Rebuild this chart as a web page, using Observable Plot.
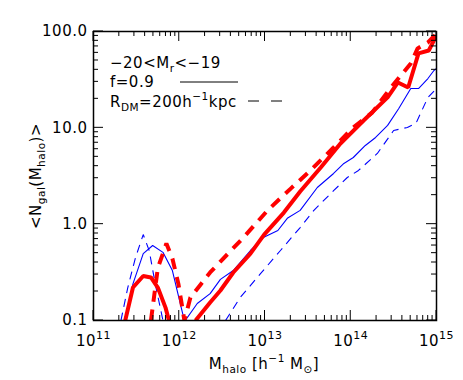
<!DOCTYPE html>
<html><head><meta charset="utf-8">
<script src="https://cdn.jsdelivr.net/npm/d3@7"></script>
<script src="https://cdn.jsdelivr.net/npm/@observablehq/plot@0.6"></script>
<style>body{margin:0;background:#fff}</style>
</head><body><div id="chart"></div>
<script>
// Data (log10 halo mass, mean galaxy count)
const redSolidLeftLogM = [11.37, 11.46, 11.58, 11.67, 11.75, 11.84, 11.88];
const redSolidLeftN = [0.1, 0.22, 0.29, 0.28, 0.22, 0.136, 0.1];
const redSolidRightLogM = [12.19, 12.36, 12.48, 12.63, 12.83, 12.99, 13.22, 13.41, 13.65, 13.88, 14.15, 14.43, 14.55, 14.67, 14.79, 14.91, 15.0];
const redSolidRightN = [0.1, 0.154, 0.205, 0.315, 0.495, 0.78, 1.32, 2.18, 3.87, 6.87, 11.9, 20.7, 29.6, 26.2, 59.2, 63.5, 90.8];

const redDashedLogM = [11.67, 11.75, 11.85, 11.92, 11.99, 12.06, 12.13, 12.25, 12.36, 12.48, 12.75, 13.03, 13.30, 13.53, 13.80, 14.03, 14.25, 14.46, 14.70, 14.78, 14.90, 15.0];
const redDashedN = [0.1, 0.35, 0.63, 0.44, 0.24, 0.1, 0.173, 0.237, 0.315, 0.409, 0.728, 1.39, 2.34, 3.61, 6.25, 10.1, 14.4, 25.6, 46.6, 66.7, 76.9, 95.3];

const blueSolidLogM = [11.37, 11.46, 11.58, 11.69, 11.81, 11.92, 12.04, 12.07, 12.21, 12.36, 12.48, 12.63, 12.83, 12.98, 13.15, 13.26, 13.41, 13.61, 13.80, 13.92, 14.03, 14.17, 14.29, 14.43, 14.56, 14.70, 14.79, 14.90, 14.97, 15.0];
const blueSolidN = [0.1, 0.24, 0.495, 0.6, 0.51, 0.33, 0.118, 0.1, 0.15, 0.19, 0.267, 0.33, 0.533, 0.726, 0.859, 1.15, 1.39, 2.40, 3.36, 4.27, 4.92, 6.56, 7.94, 10.6, 15.9, 25.6, 25.6, 32.5, 39.4, 41.3];

const blueDashedLeftLogM = [11.32, 11.40, 11.49, 11.58, 11.65, 11.72, 11.81];
const blueDashedLeftN = [0.1, 0.22, 0.45, 0.78, 0.53, 0.24, 0.1];
const blueDashedRightLogM = [12.54, 12.71, 12.95, 13.18, 13.41, 13.57, 13.80, 13.96, 14.09, 14.31, 14.50, 14.66, 14.76, 14.90, 15.0];
const blueDashedRightN = [0.1, 0.173, 0.308, 0.533, 0.923, 1.39, 2.23, 3.05, 3.61, 5.42, 9.38, 10.1, 11.1, 20.7, 25.6];

const xMajorTicks = [1e11, 1e12, 1e13, 1e14, 1e15];
const xTickExponents = ["11", "12", "13", "14", "15"];
const yMajorTicks = [0.1, 1, 10, 100];
const yTickLabels = ["0.1", "1.0", "10.0", "100.0"];

const rows = (lm, n) => lm.map((m, i) => ({m: 10 ** m, n: n[i]}));

const xMinorTicks = [];
for (let e = 11; e < 15; e++) for (let k = 2; k <= 9; k++) xMinorTicks.push(k * 10 ** e);
const yMinorTicks = [];
for (let e = -1; e < 2; e++) for (let k = 2; k <= 9; k++) yMinorTicks.push(+(k * 10 ** e).toPrecision(3));

const lineOpts = (color, w, dash) => ({x: "m", y: "n", stroke: color, strokeWidth: w, strokeDasharray: dash, strokeLinecap: "butt", strokeLinejoin: "miter", clip: true});

const svg = Plot.plot({
  width: 463, height: 380,
  marginLeft: 93, marginRight: 27, marginTop: 31, marginBottom: 60,
  style: {fontFamily: "DejaVu Sans", fontSize: "15px", background: "white", color: "black", letterSpacing: "0.5px"},
  x: {type: "log", domain: [1e11, 1e15]},
  y: {type: "log", domain: [0.1, 100]},
  marks: [
    Plot.axisX({anchor: "bottom", ticks: xMajorTicks, tickSize: 0, tickPadding: 15, tickFormat: d => "10^" + xTickExponents[xMajorTicks.indexOf(d)], label: null}),
    Plot.axisY({anchor: "left", ticks: yMajorTicks, tickSize: 0, tickPadding: 6, tickFormat: d => yTickLabels[yMajorTicks.indexOf(d)], label: null}),
    Plot.line(rows(blueSolidLogM, blueSolidN), lineOpts("#0000ff", 1.1)),
    Plot.line(rows(blueDashedLeftLogM, blueDashedLeftN), lineOpts("#0000ff", 1.1, "8,6")),
    Plot.line(rows(blueDashedRightLogM, blueDashedRightN), lineOpts("#0000ff", 1.1, "8,6")),
    Plot.line(rows(redSolidLeftLogM, redSolidLeftN), lineOpts("#ff0000", 4)),
    Plot.line(rows(redSolidRightLogM, redSolidRightN), lineOpts("#ff0000", 4)),
    Plot.line(rows(redDashedLogM, redDashedN), lineOpts("#ff0000", 4, "11,8")),
    Plot.frame({stroke: "black", strokeWidth: 1.5})
  ]
});

const root = d3.select(svg);
const sx = svg.scale("x"), sy = svg.scale("y");
const [X0, X1] = sx.range, [Y0, Y1] = sy.range; // Y0 bottom, Y1 top

// inward ticks on all four sides, positioned through the plot's scales
const tickG = root.append("g").attr("stroke", "black").attr("stroke-width", 1);
for (const [list, len] of [[xMinorTicks, 5], [xMajorTicks, 10]]) {
  for (const v of list) {
    const px = sx.apply(v);
    tickG.append("line").attr("x1", px).attr("x2", px).attr("y1", Y0).attr("y2", Y0 - len);
    tickG.append("line").attr("x1", px).attr("x2", px).attr("y1", Y1).attr("y2", Y1 + len);
  }
}
for (const [list, len] of [[yMinorTicks, 5], [yMajorTicks, 10]]) {
  for (const v of list) {
    const py = sy.apply(v);
    tickG.append("line").attr("y1", py).attr("y2", py).attr("x1", X0).attr("x2", X0 + len);
    tickG.append("line").attr("y1", py).attr("y2", py).attr("x1", X1).attr("x2", X1 - len);
  }
}

// superscripted x tick labels
svg.querySelectorAll("text").forEach(t => {
  const s = t.textContent;
  if (s.startsWith("10^")) {
    const exp = s.slice(3);
    const sel = d3.select(t);
    sel.text(null);
    sel.append("tspan").text("10");
    sel.append("tspan").attr("dy", -7).attr("font-size", 11).text(exp);
  }
});

function rich(parent, parts) {
  let shift = 0;
  for (const p of parts) {
    const target = p.s === "sub" ? 4 : p.s === "sup" ? -7 : 0;
    const ts = parent.append("tspan").attr("dy", target - shift).text(p.t);
    if (p.s) ts.attr("font-size", 10.5);
    shift = target;
  }
}

// y label
const yl = root.append("text").attr("transform", "translate(41,176) rotate(-90)").attr("text-anchor", "middle");
rich(yl, [{t: "<N"}, {t: "gal", s: "sub"}, {t: "(M"}, {t: "halo", s: "sub"}, {t: ")>"}]);

// x label
const xl = root.append("text").attr("x", 264).attr("y", 369).attr("text-anchor", "middle");
rich(xl, [{t: "M"}, {t: "halo", s: "sub"}, {t: " [h"}, {t: "\u22121", s: "sup"}, {t: " M"}, {t: "\u2299", s: "sub"}, {t: "]"}]);

// legend
const l1 = root.append("text").attr("x", 110).attr("y", 68).attr("text-anchor", "start");
rich(l1, [{t: "\u221220<M"}, {t: "r", s: "sub"}, {t: "<\u221219"}]);
const l2 = root.append("text").attr("x", 110).attr("y", 87).attr("text-anchor", "start");
rich(l2, [{t: "f=0.9"}]);
const l3 = root.append("text").attr("x", 110).attr("y", 107).attr("text-anchor", "start");
rich(l3, [{t: "R"}, {t: "DM", s: "sub"}, {t: "=200h"}, {t: "\u22121", s: "sup"}, {t: "kpc"}]);
root.append("line").attr("x1", 180).attr("x2", 238).attr("y1", 82).attr("y2", 82).attr("stroke", "black").attr("stroke-width", 1);
root.append("line").attr("x1", 248).attr("x2", 282).attr("y1", 101).attr("y2", 101).attr("stroke", "black").attr("stroke-width", 1).attr("stroke-dasharray", "11,12");

document.getElementById("chart").appendChild(svg);
</script>
</body></html>
